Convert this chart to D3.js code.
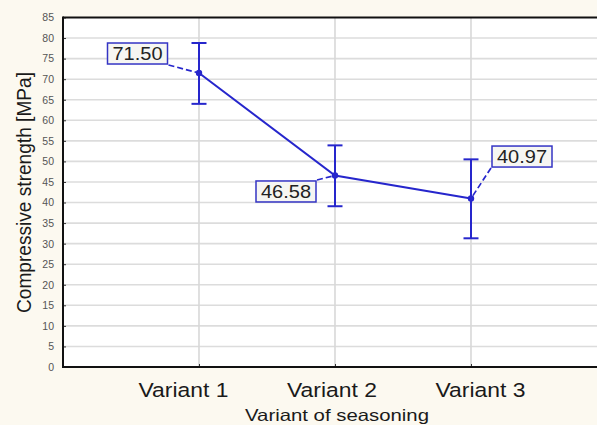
<!DOCTYPE html>
<html>
<head>
<meta charset="utf-8">
<script src="https://cdn.jsdelivr.net/npm/d3@7"></script>
<style>
  html, body { margin: 0; padding: 0; background: #fcf9f0; }
  svg { display: block; }
  text { font-family: "Liberation Sans", Arial, sans-serif; }
</style>
</head>
<body>
<svg id="chart" width="597" height="425"></svg>
<script>
// ---- data ----
const categories = ["Variant 1", "Variant 2", "Variant 3"];
const means = [71.50, 46.58, 40.97];
const upper = [78.8, 53.9, 50.5];
const lower = [64.0, 39.1, 31.3];
const meanLabels = ["71.50", "46.58", "40.97"];
const yTicks = [0,5,10,15,20,25,30,35,40,45,50,55,60,65,70,75,80,85];
const xTitle = "Variant of seasoning";
const yTitle = "Compressive strength [MPa]";

// ---- layout ----
const W = 597, H = 425;
const plot = { left: 63, top: 17.5, right: 607, bottom: 367 };
const blue = "#2626cc";

const svg = d3.select("#chart");
svg.append("rect").attr("width", W).attr("height", H).attr("fill", "#fcf9f0");

const x = d3.scalePoint().domain(categories).range([plot.left, plot.right]).padding(1);
const xLab = d3.scalePoint().domain(categories).range([183.5, 480.5]);
const y = d3.scaleLinear().domain([0, 85]).range([plot.bottom, plot.top]);

// plot background
svg.append("rect")
  .attr("x", plot.left).attr("y", plot.top)
  .attr("width", W - plot.left).attr("height", plot.bottom - plot.top)
  .attr("fill", "#ffffff");

// horizontal grid
svg.append("g").selectAll("line").data(yTicks.filter(d => d > 0 && d < 85)).join("line")
  .attr("x1", plot.left).attr("x2", W)
  .attr("y1", d => y(d)).attr("y2", d => y(d))
  .attr("stroke", "#dcdcdc").attr("stroke-width", 1.6);

// vertical grid
svg.append("g").selectAll("line").data(categories).join("line")
  .attr("x1", d => x(d)).attr("x2", d => x(d))
  .attr("y1", plot.top).attr("y2", plot.bottom)
  .attr("stroke", "#d8d8d8").attr("stroke-width", 1.6);

// y axis
const yAxis = d3.axisLeft(y).tickValues(yTicks).tickSize(-3).tickPadding(9).tickFormat(d3.format("d"));
const gy = svg.append("g").attr("transform", `translate(${plot.left},0)`).call(yAxis);
gy.select(".domain").remove();
gy.selectAll(".tick line").attr("stroke", "#333").attr("stroke-width", 1);
gy.selectAll(".tick text").attr("fill", "#555").attr("font-size", 10.5)
  .attr("font-family", "Liberation Sans, Arial, sans-serif");

// x axis ticks (inward)
const xAxis = d3.axisBottom(x).tickSize(-3).tickFormat("");
const gx = svg.append("g").attr("transform", `translate(0,${plot.bottom})`).call(xAxis);
gx.select(".domain").remove();
gx.selectAll(".tick line").attr("stroke", "#333");

// frame lines
svg.append("line").attr("x1", plot.left).attr("x2", W).attr("y1", plot.top).attr("y2", plot.top)
  .attr("stroke", "#111").attr("stroke-width", 2);
svg.append("line").attr("x1", plot.left).attr("x2", W).attr("y1", plot.bottom).attr("y2", plot.bottom)
  .attr("stroke", "#111").attr("stroke-width", 2);
svg.append("line").attr("x1", plot.left).attr("x2", plot.left).attr("y1", plot.top - 1).attr("y2", plot.bottom + 1)
  .attr("stroke", "#111").attr("stroke-width", 2);

// x category labels
svg.append("g").selectAll("text").data(categories).join("text")
  .attr("x", d => xLab(d)).attr("y", 397)
  .attr("text-anchor", "middle").attr("font-size", 20.5).attr("fill", "#1a1a1a")
  .attr("textLength", 90).attr("lengthAdjust", "spacingAndGlyphs")
  .text(d => d);

// axis titles
svg.append("text").attr("x", 337).attr("y", 421).attr("text-anchor", "middle")
  .attr("font-size", 16.5).attr("fill", "#1a1a1a")
  .attr("textLength", 184).attr("lengthAdjust", "spacingAndGlyphs")
  .text(xTitle);
svg.append("text").attr("transform", "translate(30.5,192.5) rotate(-90)").attr("text-anchor", "middle")
  .attr("font-size", 20.5).attr("fill", "#1a1a1a")
  .attr("textLength", 241).attr("lengthAdjust", "spacingAndGlyphs")
  .text(yTitle);

// data series
const pts = categories.map((c, i) => ({ c, m: means[i], hi: upper[i], lo: lower[i], lab: meanLabels[i] }));

// error bars
const eb = svg.append("g").attr("stroke", blue).attr("stroke-width", 2);
pts.forEach(p => {
  eb.append("line").attr("x1", x(p.c)).attr("x2", x(p.c)).attr("y1", y(p.hi)).attr("y2", y(p.lo));
  eb.append("line").attr("x1", x(p.c) - 7.5).attr("x2", x(p.c) + 7.5).attr("y1", y(p.hi)).attr("y2", y(p.hi));
  eb.append("line").attr("x1", x(p.c) - 7.5).attr("x2", x(p.c) + 7.5).attr("y1", y(p.lo)).attr("y2", y(p.lo));
});

// mean line
svg.append("path").datum(pts)
  .attr("d", d3.line().x(p => x(p.c)).y(p => y(p.m)))
  .attr("fill", "none").attr("stroke", blue).attr("stroke-width", 2);

svg.append("g").selectAll("circle").data(pts).join("circle")
  .attr("cx", p => x(p.c)).attr("cy", p => y(p.m)).attr("r", 3.2).attr("fill", blue);

// value labels with dashed leaders
const labelOffsets = [[-61.5, -19.5], [-49, 16], [51, -42]];
const bw = 60, bh = 21;
pts.forEach((p, i) => {
  const px = x(p.c), py = y(p.m);
  const cx = px + labelOffsets[i][0], cy = py + labelOffsets[i][1];
  const bx0 = cx - bw / 2, bx1 = cx + bw / 2, by0 = cy - bh / 2, by1 = cy + bh / 2;
  const sx = cx < px ? bx1 + 1 : bx0 - 1;
  const sy = cy < py ? by1 + 1 : by0 - 1;
  const ang = Math.atan2(py - sy, px - sx);
  svg.append("line")
    .attr("x1", sx).attr("y1", sy)
    .attr("x2", px - 3 * Math.cos(ang)).attr("y2", py - 3 * Math.sin(ang))
    .attr("stroke", blue).attr("stroke-width", 1.7).attr("stroke-dasharray", "6,3");
  svg.append("rect").attr("x", bx0).attr("y", by0).attr("width", bw).attr("height", bh)
    .attr("fill", "#f6f6f2").attr("stroke", "#3434c4").attr("stroke-width", 1.5);
  svg.append("text").attr("x", cx).attr("y", cy + 6.5).attr("text-anchor", "middle")
    .attr("font-size", 18.5).attr("fill", "#222")
    .attr("textLength", 50).attr("lengthAdjust", "spacingAndGlyphs")
    .text(p.lab);
});
</script>
</body>
</html>
